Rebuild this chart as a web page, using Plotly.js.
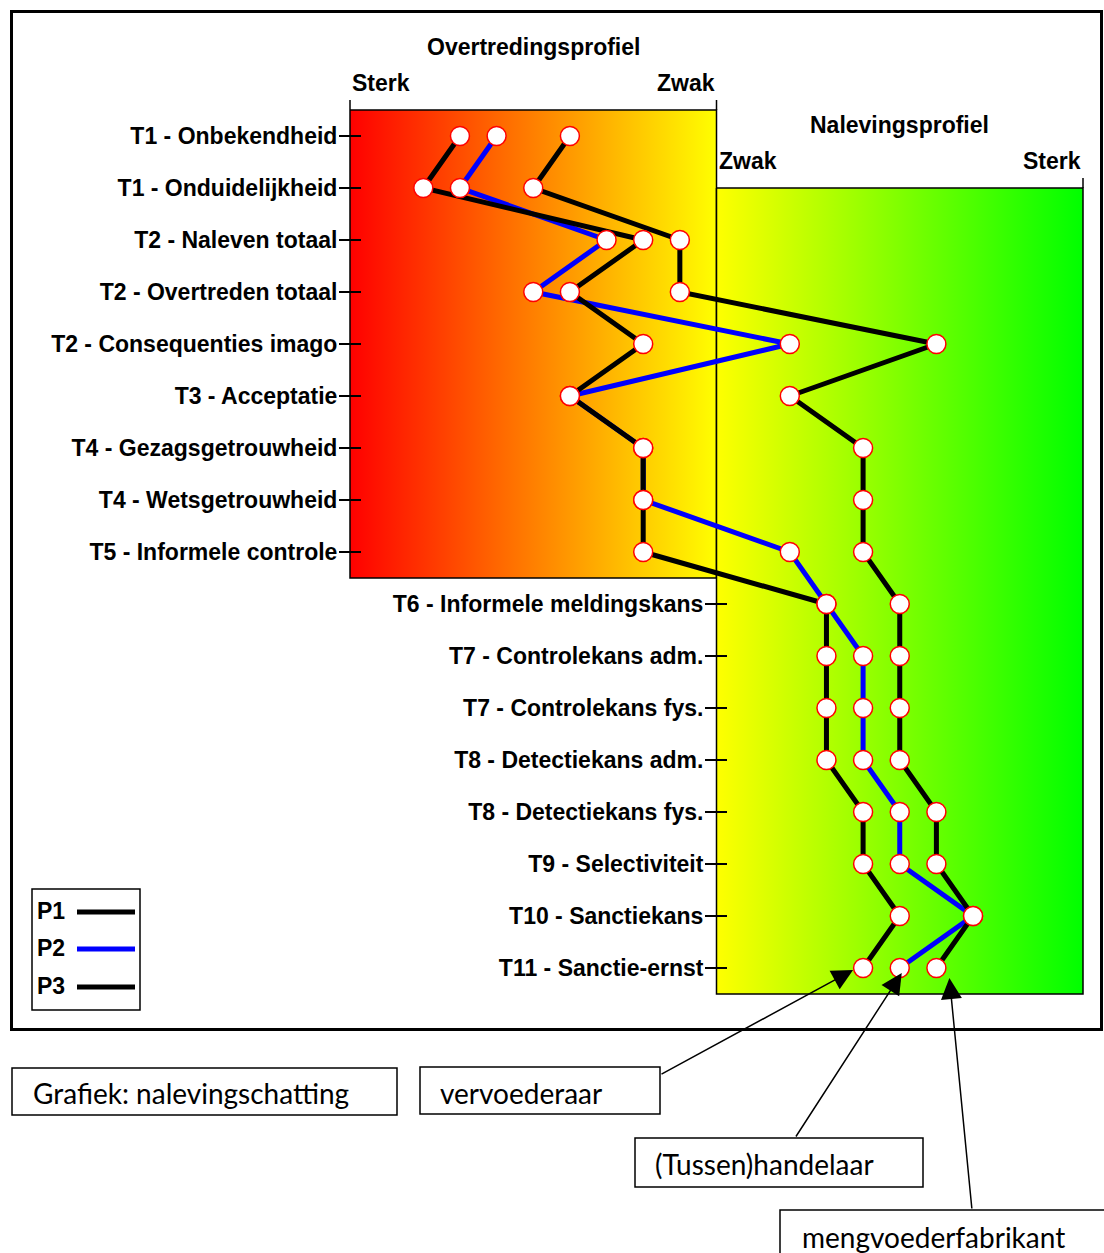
<!DOCTYPE html>
<html><head><meta charset="utf-8">
<script src="https://cdn.plot.ly/plotly-3.0.1.min.js"></script>
<style>html,body{margin:0;padding:0;background:#fff}#chart{width:1104px;height:1253px}</style>
</head><body><div id="chart"></div>
<script>
// ---------- data ----------
const categories = ['T1 - Onbekendheid','T1 - Onduidelijkheid','T2 - Naleven totaal','T2 - Overtreden totaal','T2 - Consequenties imago','T3 - Acceptatie','T4 - Gezagsgetrouwheid','T4 - Wetsgetrouwheid','T5 - Informele controle','T6 - Informele meldingskans','T7 - Controlekans adm.','T7 - Controlekans fys.','T8 - Detectiekans adm.','T8 - Detectiekans fys.','T9 - Selectiviteit','T10 - Sanctiekans','T11 - Sanctie-ernst'];
const p1 = [3,2,8,6,8,6,8,8,8,13,13,13,13,14,14,15,14];
const p2 = [4,3,7,5,12,6,8,8,12,13,14,14,14,15,15,17,15];
const p3 = [6,5,9,9,16,12,14,14,14,15,15,15,15,16,16,17,16];
const seriesNames = ['P1','P2','P3'];
const seriesColors = ['#000000','#0000ff','#000000'];
const leftRowCount = 9;
const profileTitles = ['Overtredingsprofiel','Nalevingsprofiel'];
const scaleEnds = [['Sterk','Zwak'],['Zwak','Sterk']];
const companyLabels = ['vervoederaar','(Tussen)handelaar','mengvoederfabrikant'];
const chartCaption = 'Grafiek: nalevingschatting';

// ---------- geometry ----------
const W = 1104, H = 1253;
const X0 = 350, XS = 36.65;   // pixel of x=0, pixels per unit
const Y0 = 136, YS = 52;      // pixel of row 0, pixels per row
const px = p => p / W;
const py = p => 1 - p / H;
const rowOf = p => (p - Y0) / YS;
const rows = categories.map((c, i) => i);
const series = [p1, p2, p3];

const boldFont = {family: 'Liberation Sans, Arial, sans-serif', size: 23, color: '#000', weight: 'bold'};
const textFont = {family: 'Lato, sans-serif', size: 28, color: '#000'};

const traces = [];
// gradient profile boxes
traces.push({x: [0, 10, 10, 0, 0], y: [-0.5, -0.5, 8.5, 8.5, -0.5], mode: 'lines', fill: 'toself',
  fillgradient: {type: 'horizontal', colorscale: [[0, '#ff0000'], [1, '#ffff00']]},
  line: {color: '#000', width: 1.5}, showlegend: false, hoverinfo: 'skip'});
traces.push({x: [10, 20, 20, 10, 10], y: [1, 1, 16.5, 16.5, 1], mode: 'lines', fill: 'toself',
  fillgradient: {type: 'horizontal', colorscale: [[0, '#ffff00'], [1, '#00ff00']]},
  line: {color: '#000', width: 1.5}, showlegend: false, hoverinfo: 'skip'});
// lines (P2 under P1/P3)
[1, 0, 2].forEach(i => traces.push({x: series[i], y: rows, mode: 'lines', name: seriesNames[i],
  line: {color: seriesColors[i], width: 5}, showlegend: false, hoverinfo: 'skip'}));
// markers on top
[1, 0, 2].forEach(i => traces.push({x: series[i], y: rows, mode: 'markers', name: seriesNames[i],
  marker: {size: 19, color: '#ffffff', line: {color: '#ff0000', width: 1.5}}, showlegend: false, hoverinfo: 'skip'}));
// dummy trace so that the second label axis is drawn
traces.push({x: [null], y: [null], yaxis: 'y2', mode: 'markers', showlegend: false, hoverinfo: 'skip'});

const yRange = [rowOf(H), rowOf(0)];
const xRange = [(0 - X0) / XS, (W - X0) / XS];

const axisCommon = {range: yRange, autorange: false, anchor: 'free', side: 'left', tickmode: 'array',
  ticks: 'outside', ticklen: 22, tickwidth: 1.5, tickcolor: '#000', showline: false, showgrid: false,
  zeroline: false, tickfont: boldFont, fixedrange: true, ticklabelstandoff: -3};

const annotations = [];
function label(t, x, xanchor, xref, yPix) {
  annotations.push({text: t, x: x, xanchor: xanchor, xref: xref, y: py(yPix), yanchor: 'middle', yref: 'paper',
    showarrow: false, font: boldFont});
}
// profile titles and scale ends
label(profileTitles[0], 5, 'center', 'x', 47);
label(scaleEnds[0][0], 0, 'left', 'x', 83);
label(scaleEnds[0][1], 10, 'right', 'x', 83);
label(profileTitles[1], 15, 'center', 'x', 125);
label(scaleEnds[1][0], 10, 'left', 'x', 161);
label(scaleEnds[1][1], 20, 'right', 'x', 161);
// manual legend labels
const legendY = [911, 948, 986];
seriesNames.forEach((n, i) => label(n, px(35), 'left', 'paper', legendY[i]));
// caption boxes text (clipped at box bottom like the original)
function boxText(t, left, baseline, clipBottom) {
  const top = baseline - 27.6;
  annotations.push({text: t + '<br> ', x: px(left), xanchor: 'left', xref: 'paper', y: py(top), yanchor: 'top', yref: 'paper',
    showarrow: false, font: textFont, align: 'left', valign: 'top', width: 330, height: clipBottom - top,
    borderwidth: 0, borderpad: 0});
}
boxText(chartCaption, 33, 1104, 1112);
boxText(companyLabels[0], 440, 1104, 1112);
boxText(companyLabels[1], 655, 1175, 1186);
boxText(companyLabels[2], 802, 1248, 1260);
// arrows from the company boxes to the last row points
const last = categories.length - 1;
const arrowSpec = [
  {s: p1, xs: -10, ys: -2, tail: [660, 1075]},
  {s: p2, xs: 2, ys: -5, tail: [795, 1138]},
  {s: p3, xs: 13, ys: -10, tail: [972, 1210]}
];
arrowSpec.forEach(a => {
  const cx = X0 + XS * a.s[last] + a.xs, cy = Y0 + YS * last - a.ys;
  annotations.push({text: '', x: a.s[last], y: last, xref: 'x', yref: 'y', xshift: a.xs, yshift: a.ys,
    showarrow: true, arrowhead: 2, arrowsize: 2.8, arrowwidth: 1.5, arrowcolor: '#000',
    ax: a.tail[0] - cx, ay: a.tail[1] - cy, standoff: 0});
});

const shapes = [];
// outer frame
shapes.push({type: 'rect', xref: 'paper', yref: 'paper', x0: px(11.5), x1: px(1101.5), y0: py(11.5), y1: py(1029.5), line: {color: '#000', width: 3}});
// end ticks at top of the profile boxes
[[0, -0.5, rowOf(100)], [10, -0.5, rowOf(100)], [20, 1, rowOf(178)]].forEach(t =>
  shapes.push({type: 'line', xref: 'x', yref: 'y', x0: t[0], x1: t[0], y0: t[1], y1: t[2], line: {color: '#000', width: 1.5}, layer: 'above'}));
// legend box + line samples
shapes.push({type: 'rect', xref: 'paper', yref: 'paper', x0: px(32), x1: px(140), y0: py(889), y1: py(1010), line: {color: '#000', width: 1.5}, layer: 'above'});
seriesColors.forEach((c, i) => shapes.push({type: 'line', xref: 'paper', yref: 'paper', x0: px(77), x1: px(135),
  y0: py(legendY[i] + 1), y1: py(legendY[i] + 1), line: {color: c, width: 5}, layer: 'above'}));
// caption boxes
[[12, 1068, 397, 1115], [420, 1067, 660, 1114], [635, 1138, 923, 1187], [780, 1210, 1115, 1270]].forEach(b =>
  shapes.push({type: 'rect', xref: 'paper', yref: 'paper', x0: px(b[0]), x1: px(b[2]), y0: py(b[1]), y1: py(b[3]), line: {color: '#000', width: 1.5}}));

const layout = {
  width: W, height: H, margin: {l: 0, r: 0, t: 0, b: 0, pad: 0},
  paper_bgcolor: '#fff', plot_bgcolor: '#fff', showlegend: false, hovermode: false,
  xaxis: {range: xRange, autorange: false, visible: false, fixedrange: true},
  yaxis: Object.assign({}, axisCommon, {position: px(361), tickvals: rows.slice(0, leftRowCount), ticktext: categories.slice(0, leftRowCount)}),
  yaxis2: Object.assign({}, axisCommon, {overlaying: 'y', position: px(727), tickvals: rows.slice(leftRowCount), ticktext: categories.slice(leftRowCount)}),
  annotations: annotations, shapes: shapes
};
Plotly.newPlot('chart', traces, layout, {staticPlot: true, displayModeBar: false});
</script></body></html>
